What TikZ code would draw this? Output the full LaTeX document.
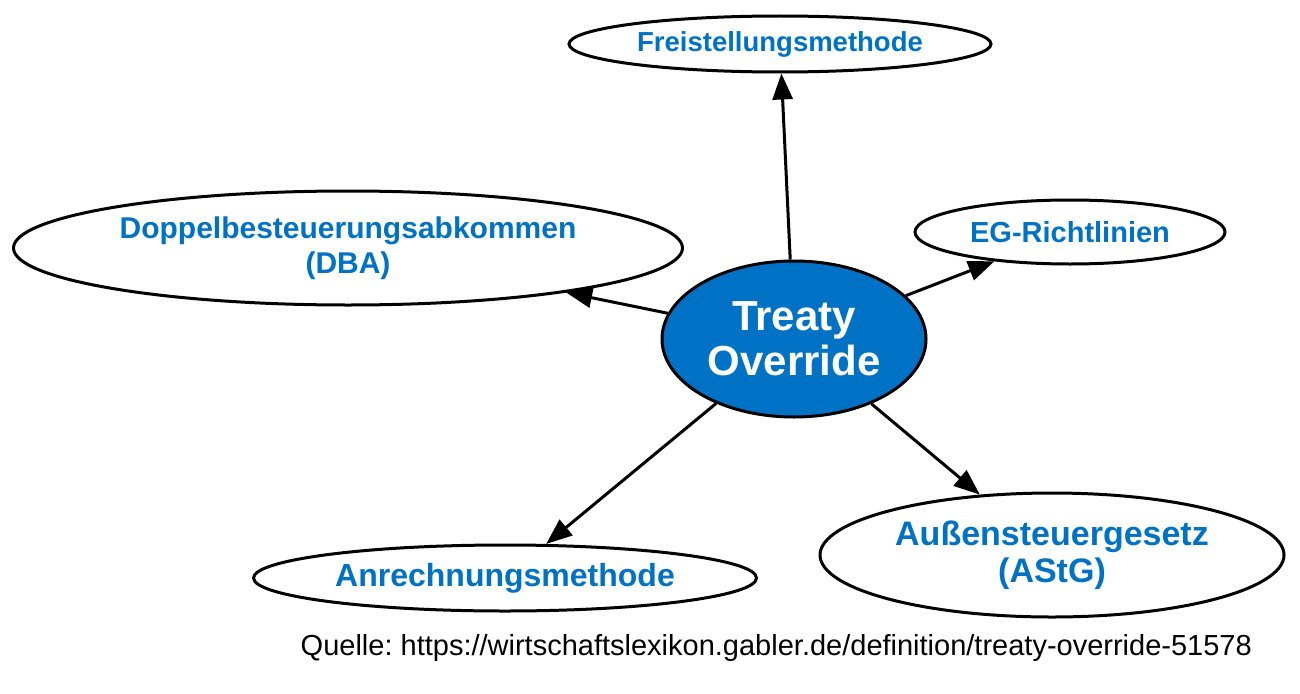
\documentclass[tikz,border=0pt]{standalone}
\usepackage{fontspec}
\setmainfont{Liberation Sans}
\usetikzlibrary{shapes.geometric,arrows.meta}
\definecolor{gablerblue}{RGB}{0, 114, 198}

\tikzset{
	begriff/.style={ellipse, draw, line width=3pt, inner sep=0pt, align=center, text=gablerblue},
	zentrum/.style={begriff, fill=gablerblue, text=white},
	verweis/.style={line width=3pt, -{Triangle[length=26pt,width=20pt]}},
}

\begin{document}
\frenchspacing
\begin{tikzpicture}[x=1pt,y=-1pt]
	\useasboundingbox (0,0) rectangle (1300,693);
	% mitte
	\node[zentrum, minimum width=264pt, minimum height=156pt, font=\fontsize{42}{45}\selectfont\bfseries] (treaty) at (794,339) {Treaty\\Override};
	% aussen
	\node[begriff, minimum width=422pt, minimum height=56pt, font=\fontsize{27.5}{30}\selectfont\bfseries] (frei) at (780,44) {Freistellungsmethode};
	\node[begriff, minimum width=669pt, minimum height=114pt, font=\fontsize{30}{35}\selectfont\bfseries] (dba) at (348,248) {Doppelbesteuerungsabkommen\\(DBA)};
	\node[begriff, minimum width=310pt, minimum height=64pt, font=\fontsize{29}{32}\selectfont\bfseries] (eg) at (1070,232) {EG-Richtlinien};
	\node[begriff, minimum width=503pt, minimum height=66pt, font=\fontsize{32}{35}\selectfont\bfseries] (anr) at (505,578) {Anrechnungsmethode};
	\node[begriff, minimum width=464pt, minimum height=124pt, font=\fontsize{34}{37}\selectfont\bfseries] (astg) at (1052,555) {Außensteuergesetz\\(AStG)};
	% pfeile
	\draw[verweis] (treaty) -- (frei);
	\draw[verweis] (treaty) -- (dba);
	\draw[verweis] (treaty) -- (eg);
	\draw[verweis] (treaty) -- (anr);
	\draw[verweis] (treaty) -- (astg);
	% quelle
	\node[anchor=base east, inner sep=0pt, font=\fontsize{29}{32}\selectfont] (quelle) at (1252,655) {Quelle: https://wirtschaftslexikon.gabler.de/definition/treaty-override-51578};
\end{tikzpicture}
\end{document}
